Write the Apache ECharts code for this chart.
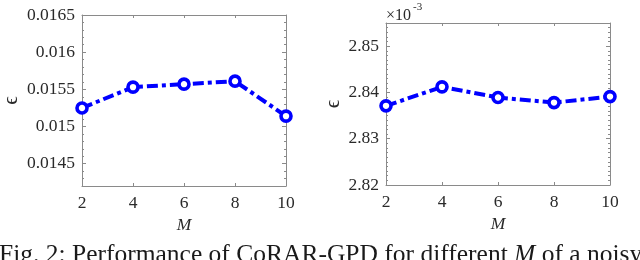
<!DOCTYPE html>
<html>
<head>
<meta charset="utf-8">
<script src="https://cdn.jsdelivr.net/npm/echarts@6/dist/echarts.min.js"></script>
<style>html,body{margin:0;padding:0;background:#fff}#c{width:640px;height:260px}</style>
</head>
<body>
<div id="c"></div>
<script>
// ---- data ----
const mValues = [2, 4, 6, 8, 10];
const xTicks = [2, 4, 6, 8, 10];
const epsLeft = [0.01525, 0.01553, 0.01557, 0.01561, 0.01514];
const yTicksLeft = [0.0145, 0.015, 0.0155, 0.016, 0.0165];
const yRangeLeft = [0.0142, 0.0165];
const epsRight = [2.8371, 2.8412, 2.8389, 2.8378, 2.8391]; // ×10^-3
const yTicksRight = [2.82, 2.83, 2.84, 2.85];
const yRangeRight = [2.82, 2.855];
const yMinorLeft = 0.0001;
const yMinorRight = 0.001;
const xName = 'M';
const yName = 'ϵ';
const caption = 'Fig. 2: Performance of CoRAR-GPD for different ';
const captionTail = ' of a noisy';

const FONT = '"Liberation Serif", "Times New Roman", serif';
const AX = '#8a8a8a';
const TXT = '#2a2a2a';
const BLUE = '#0000ff';

const chart = echarts.init(document.getElementById('c'), null, {renderer: 'canvas'});

function xAxes(grid) {
  return [
    {type: 'value', gridIndex: grid, min: xTicks[0], max: xTicks[xTicks.length-1], interval: 2, position: 'bottom',
     axisLine: {show: true, lineStyle: {color: AX, width: 1}},
     axisTick: {show: true, inside: true, length: 3, lineStyle: {color: AX}},
     axisLabel: {show: true, color: TXT, fontFamily: FONT, fontSize: 17.5, margin: 8},
     splitLine: {show: false},
     name: xName, nameLocation: 'middle', nameGap: 30,
     nameTextStyle: {fontFamily: FONT, fontSize: 17.5, fontStyle: 'italic', color: TXT}},
    {type: 'value', gridIndex: grid, min: xTicks[0], max: xTicks[xTicks.length-1], interval: 2, position: 'top',
     axisLine: {show: true, lineStyle: {color: AX, width: 1}},
     axisTick: {show: true, inside: true, length: 3, lineStyle: {color: AX}},
     axisLabel: {show: false}, splitLine: {show: false}}
  ];
}

function yAxes(grid, range, ticks, minor, fmt, nameGap) {
  const base = {type: 'value', gridIndex: grid, min: range[0], max: range[1], splitLine: {show: false}};
  return [
    Object.assign({}, base, {position: 'left', interval: minor,
      axisLine: {show: true, lineStyle: {color: AX, width: 1}},
      axisTick: {show: true, inside: true, length: 4, customValues: ticks, lineStyle: {color: AX}},
      axisLabel: {show: true, customValues: ticks, formatter: fmt, color: TXT, fontFamily: FONT, fontSize: 17.5, margin: 7},
      name: yName, nameLocation: 'middle', nameGap: nameGap, nameRotate: 90,
      nameTextStyle: {fontFamily: FONT, fontSize: 21, color: TXT}}),
    Object.assign({}, base, {position: 'right', interval: minor,
      axisLine: {show: true, lineStyle: {color: AX, width: 1}},
      axisTick: {show: true, inside: true, length: 4, customValues: ticks, lineStyle: {color: AX}},
      axisLabel: {show: false}}),
    Object.assign({}, base, {position: 'left', interval: minor,
      axisLine: {show: false},
      axisTick: {show: true, inside: true, length: 2, lineStyle: {color: AX}},
      axisLabel: {show: false}}),
    Object.assign({}, base, {position: 'right', interval: minor,
      axisLine: {show: false},
      axisTick: {show: true, inside: true, length: 2, lineStyle: {color: AX}},
      axisLabel: {show: false}})
  ];
}

const lineSeries = (xi, yi, vals) => ({
  type: 'line', xAxisIndex: xi, yAxisIndex: yi,
  data: mValues.map((m, i) => [m, vals[i]]),
  symbol: 'circle', symbolSize: 10, showSymbol: true,
  itemStyle: {color: '#ffffff', borderColor: BLUE, borderWidth: 3.6},
  lineStyle: {color: BLUE, width: 4, type: [11, 4, 4, 4], cap: 'butt'},
  emphasis: {disabled: true}, animation: false, z: 5
});

chart.setOption({
  animation: false,
  backgroundColor: '#ffffff',
  grid: [
    {left: 80, top: 15, width: 206, height: 171, containLabel: false},
    {left: 386, top: 23, width: 224, height: 162, containLabel: false}
  ],
  xAxis: [...xAxes(0), ...xAxes(1)],
  yAxis: [
    ...yAxes(0, yRangeLeft, yTicksLeft, yMinorLeft, v => String(+v.toFixed(4)), 60),
    ...yAxes(1, yRangeRight, yTicksRight, yMinorRight, v => v.toFixed(2), 42)
  ],
  series: [lineSeries(0, 0, epsLeft), lineSeries(2, 4, epsRight)],
  graphic: [
    {type: 'text', left: 386, top: 8, style: {text: '×10', fontFamily: FONT, fontSize: 16, fill: TXT}},
    {type: 'text', left: 413, top: 2, style: {text: '-3', fontFamily: FONT, fontSize: 11, fill: TXT}},
    {type: 'text', x: -1, y: 268, style: {
      text: '{a|' + caption + '}{b|' + xName + '}{a|' + captionTail + '}',
      verticalAlign: 'bottom',
      rich: {a: {fontFamily: FONT, fontSize: 25.5, fill: '#1a1a1a'}, b: {fontFamily: FONT, fontSize: 25.5, fontStyle: 'italic', fill: '#1a1a1a'}}
    }}
  ]
});
</script>
</body>
</html>
